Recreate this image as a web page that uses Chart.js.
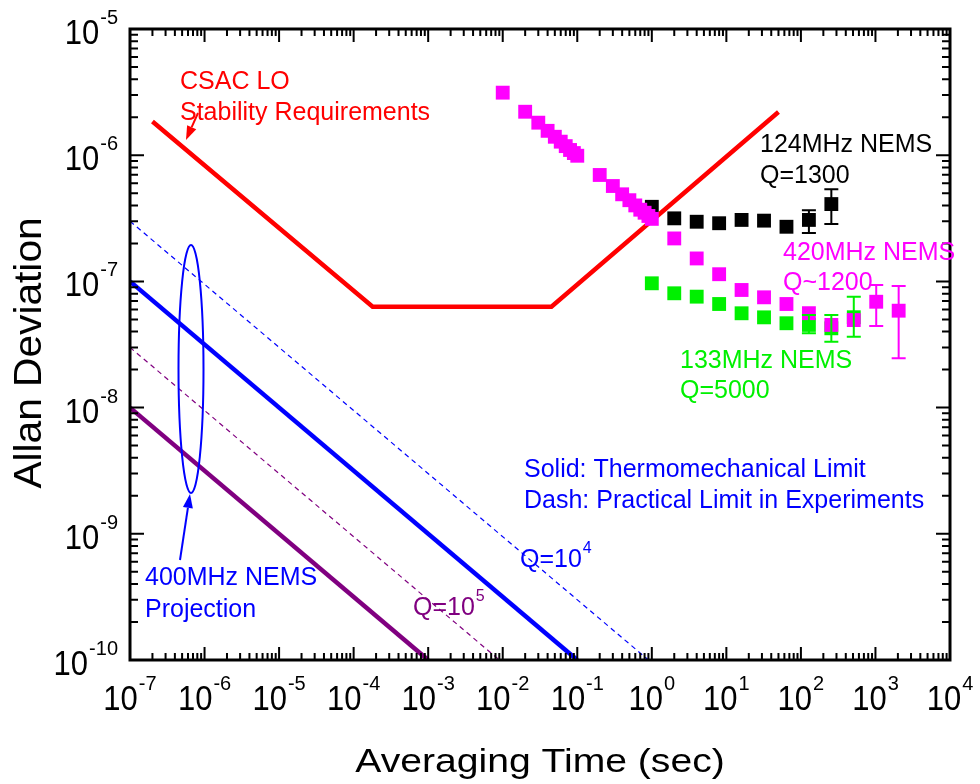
<!DOCTYPE html>
<html>
<head>
<meta charset="utf-8">
<script src="https://cdn.jsdelivr.net/npm/chart.js@4.4.0/dist/chart.umd.min.js"></script>
<style>
  html, body { margin: 0; padding: 0; background: #fff; }
  #wrap { width: 980px; height: 784px; position: relative; }
</style>
</head>
<body>
<div id="wrap"><canvas id="chart"></canvas></div>
<script>
// averaging time (s) and Allan deviation
const blackTau = [1, 2, 4, 8, 16, 32, 64, 128, 256];
const blackAdev = [3.9e-7, 3.16e-7, 2.97e-7, 2.89e-7, 3.07e-7, 3.03e-7, 2.71e-7, 3.07e-7, 4.1e-7];
const blackErrLo = [null, null, null, null, null, null, null, 2.42e-7, 2.85e-7];
const blackErrHi = [null, null, null, null, null, null, null, 3.66e-7, 5.37e-7];

const magentaTau = [0.01, 0.02, 0.03, 0.04, 0.05, 0.06, 0.07, 0.08, 0.09, 0.1,
  0.2, 0.3, 0.4, 0.5, 0.6, 0.7, 0.8, 0.9, 1, 2, 4, 8, 16, 32, 64, 128, 256, 512, 1024, 2048];
const magentaAdev = [3.13e-6, 2.21e-6, 1.81e-6, 1.56e-6, 1.40e-6, 1.28e-6, 1.18e-6, 1.10e-6, 1.04e-6, 9.9e-7,
  6.97e-7, 5.7e-7, 4.9e-7, 4.4e-7, 4.0e-7, 3.7e-7, 3.5e-7, 3.3e-7, 3.13e-7, 2.19e-7, 1.52e-7, 1.14e-7,
  8.55e-8, 7.48e-8, 6.62e-8, 5.6e-8, 4.52e-8, 4.94e-8, 6.9e-8, 5.86e-8];
const magentaErrLo = magentaTau.map(t => null);
const magentaErrHi = magentaTau.map(t => null);
magentaErrLo[28] = 4.43e-8; magentaErrHi[28] = 9.37e-8;
magentaErrLo[29] = 2.46e-8; magentaErrHi[29] = 9.2e-8;

const greenTau = [1, 2, 4, 8, 16, 32, 64, 128, 256, 512];
const greenAdev = [9.66e-8, 8.05e-8, 7.57e-8, 6.62e-8, 5.59e-8, 5.19e-8, 4.66e-8, 4.52e-8, 4.25e-8, 5.2e-8];
const greenErrLo = [null, null, null, null, null, null, null, 3.88e-8, 3.33e-8, 3.65e-8];
const greenErrHi = [null, null, null, null, null, null, null, 5.42e-8, 5.42e-8, 7.57e-8];

// CSAC LO stability requirement (corner points)
const csacTau = [2e-7, 1.8e-4, 0.045, 50];
const csacAdev = [1.85e-6, 6.3e-8, 6.3e-8, 2.2e-6];

// 400MHz NEMS projections (end points of the straight lines)
const q4SolidTau = [1e-7, 0.1];
const q4SolidAdev = [1e-7, 1e-10];
const q4DashTau = [1e-7, 0.9];
const q4DashAdev = [3e-7, 1e-10];
const q5SolidTau = [1e-7, 1e-3];
const q5SolidAdev = [1e-8, 1e-10];
const q5DashTau = [1e-7, 9e-3];
const q5DashAdev = [3e-8, 1e-10];

const xDecades = [-7, -6, -5, -4, -3, -2, -1, 0, 1, 2, 3, 4];
const yDecades = [-10, -9, -8, -7, -6, -5];

const FONT = '"Liberation Sans", Arial, Helvetica, sans-serif';
const RED = '#ff0000', BLUE = '#0000ff', PURPLE = '#800080', MAGENTA = '#ff00ff', GREEN = '#00f000';

function pts(xs, ys) { return xs.map((x, i) => ({ x: x, y: ys[i] })); }

function lineSet(xs, ys, color, width, dash, order) {
  return {
    data: pts(xs, ys), showLine: true, borderColor: color, borderWidth: width,
    borderDash: dash, pointRadius: 0, fill: false, tension: 0, order: order
  };
}

function pointSet(xs, ys, color, order) {
  return {
    data: pts(xs, ys), showLine: false, pointStyle: 'rect', pointRadius: 9.8,
    backgroundColor: color, borderColor: color, borderWidth: 0, order: order
  };
}

function arrow(ctx, x1, y1, x2, y2, color) {
  const ang = Math.atan2(y2 - y1, x2 - x1);
  const len = 14, half = 5;
  const bx = x2 - len * Math.cos(ang), by = y2 - len * Math.sin(ang);
  ctx.strokeStyle = color; ctx.fillStyle = color; ctx.lineWidth = 2;
  ctx.beginPath(); ctx.moveTo(x1, y1); ctx.lineTo(bx, by); ctx.stroke();
  ctx.beginPath();
  ctx.moveTo(x2, y2);
  ctx.lineTo(bx + half * Math.sin(ang), by - half * Math.cos(ang));
  ctx.lineTo(bx - half * Math.sin(ang), by + half * Math.cos(ang));
  ctx.closePath(); ctx.fill();
}

function text(ctx, s, x, y, color, size) {
  ctx.fillStyle = color;
  ctx.font = (size || 25) + 'px ' + FONT;
  ctx.textAlign = 'left';
  ctx.textBaseline = 'alphabetic';
  ctx.fillText(s, x, y);
}

// "base" with superscript "exp"; base may be stretched vertically by sy
function powLabel(ctx, base, exp, x, y, color, size, expSize, rise, align, sy) {
  ctx.font = size + 'px ' + FONT;
  const wb = ctx.measureText(base).width;
  ctx.font = expSize + 'px ' + FONT;
  const we = ctx.measureText(exp).width;
  const total = wb + we + 1;
  let x0 = x;
  if (align === 'center') x0 = x - total / 2;
  if (align === 'right') x0 = x - total;
  ctx.fillStyle = color;
  ctx.textAlign = 'left';
  ctx.textBaseline = 'alphabetic';
  ctx.save();
  ctx.translate(x0, y);
  ctx.scale(1, sy || 1);
  ctx.font = size + 'px ' + FONT;
  ctx.fillText(base, 0, 0);
  ctx.restore();
  ctx.font = expSize + 'px ' + FONT;
  ctx.fillText(exp, x0 + wb + 1, y - rise);
}

function errorBars(ctx, xs, lo, hi, color, sx, sy) {
  ctx.strokeStyle = color; ctx.lineWidth = 2;
  xs.forEach((t, i) => {
    if (lo[i] == null) return;
    const px = sx.getPixelForValue(t);
    const y1 = sy.getPixelForValue(lo[i]), y2 = sy.getPixelForValue(hi[i]);
    ctx.beginPath();
    ctx.moveTo(px, y1); ctx.lineTo(px, y2);
    ctx.moveTo(px - 7, y1); ctx.lineTo(px + 7, y1);
    ctx.moveTo(px - 7, y2); ctx.lineTo(px + 7, y2);
    ctx.stroke();
  });
}

const decor = {
  id: 'decor',
  afterDatasetsDraw(chart) {
    const { ctx, chartArea: a, scales: { x, y } } = chart;
    ctx.save();

    errorBars(ctx, blackTau, blackErrLo, blackErrHi, '#000', x, y);
    errorBars(ctx, greenTau, greenErrLo, greenErrHi, GREEN, x, y);
    errorBars(ctx, magentaTau, magentaErrLo, magentaErrHi, MAGENTA, x, y);

    // frame
    ctx.strokeStyle = '#000'; ctx.lineWidth = 3;
    ctx.strokeRect(a.left, a.top, a.right - a.left, a.bottom - a.top);

    // inward ticks on all four sides
    ctx.lineWidth = 2;
    xDecades.forEach(k => {
      for (let m = 1; m <= 9; m++) {
        const v = m * Math.pow(10, k);
        if (v < 1e-7 * 0.999 || v > 1e4 * 1.001) continue;
        const px = x.getPixelForValue(v), len = m === 1 ? 13 : 7;
        ctx.beginPath();
        ctx.moveTo(px, a.bottom); ctx.lineTo(px, a.bottom - len);
        ctx.moveTo(px, a.top); ctx.lineTo(px, a.top + len);
        ctx.stroke();
      }
    });
    yDecades.forEach(k => {
      for (let m = 1; m <= 9; m++) {
        const v = m * Math.pow(10, k);
        if (v < 1e-10 * 0.999 || v > 1e-5 * 1.001) continue;
        const py = y.getPixelForValue(v), len = m === 1 ? 14 : 8;
        ctx.beginPath();
        ctx.moveTo(a.left, py); ctx.lineTo(a.left + len, py);
        ctx.moveTo(a.right, py); ctx.lineTo(a.right - len, py);
        ctx.stroke();
      }
    });

    // tick labels
    xDecades.forEach(k => {
      powLabel(ctx, '10', String(k), x.getPixelForValue(Math.pow(10, k)), 710, '#000', 31, 20, 20, 'center', 1.13);
    });
    yDecades.forEach(k => {
      powLabel(ctx, '10', String(k), 118, y.getPixelForValue(Math.pow(10, k)) + 15, '#000', 31, 20, 20, 'right', 1.13);
    });

    // axis titles
    ctx.fillStyle = '#000';
    ctx.textAlign = 'center';
    ctx.save();
    ctx.translate(540, 772);
    ctx.scale(1.15, 1);
    ctx.font = '34px ' + FONT;
    ctx.fillText('Averaging Time (sec)', 0, 0);
    ctx.restore();
    ctx.save();
    ctx.translate(41, 353);
    ctx.rotate(-Math.PI / 2);
    ctx.scale(1.07, 1);
    ctx.font = '38px ' + FONT;
    ctx.fillText('Allan Deviation', 0, 0);
    ctx.restore();

    // annotations
    text(ctx, 'CSAC LO', 180, 89, RED);
    text(ctx, 'Stability Requirements', 180, 120, RED);
    arrow(ctx, 198, 113, 186, 140, RED);

    text(ctx, '124MHz NEMS', 760, 152, '#000');
    text(ctx, 'Q=1300', 760, 183, '#000');
    text(ctx, '420MHz NEMS', 783, 260, MAGENTA);
    text(ctx, 'Q~1200', 783, 290, MAGENTA);
    text(ctx, '133MHz NEMS', 680, 368, GREEN);
    text(ctx, 'Q=5000', 680, 398, GREEN);

    text(ctx, 'Solid: Thermomechanical Limit', 524, 477, BLUE);
    text(ctx, 'Dash: Practical Limit in Experiments', 524, 508, BLUE);

    powLabel(ctx, 'Q=10', '4', 520, 567, BLUE, 25, 16, 14, 'left');
    powLabel(ctx, 'Q=10', '5', 413, 615, PURPLE, 25, 16, 14, 'left');

    text(ctx, '400MHz NEMS', 145, 585, BLUE);
    text(ctx, 'Projection', 145, 617, BLUE);
    arrow(ctx, 180, 560, 190, 494, BLUE);

    ctx.strokeStyle = BLUE; ctx.lineWidth = 2;
    ctx.beginPath();
    ctx.ellipse(191, 369, 12.5, 124, 0, 0, Math.PI * 2);
    ctx.stroke();

    ctx.restore();
  }
};

new Chart(document.getElementById('chart'), {
  type: 'scatter',
  data: {
    datasets: [
      lineSet(q4DashTau, q4DashAdev, BLUE, 1.2, [5, 4], 8),
      lineSet(q5DashTau, q5DashAdev, PURPLE, 1.2, [5, 4], 8),
      lineSet(q4SolidTau, q4SolidAdev, BLUE, 4.5, [], 7),
      lineSet(q5SolidTau, q5SolidAdev, PURPLE, 4.5, [], 7),
      pointSet(blackTau, blackAdev, '#000', 5),
      lineSet(csacTau, csacAdev, RED, 4.5, [], 4),
      pointSet(greenTau, greenAdev, GREEN, 3),
      pointSet(magentaTau, magentaAdev, MAGENTA, 2)
    ]
  },
  options: {
    responsive: true,
    maintainAspectRatio: false,
    animation: false,
    layout: { padding: { left: 130, top: 29, right: 30, bottom: 124 } },
    plugins: { legend: { display: false }, tooltip: { enabled: false } },
    scales: {
      x: { type: 'logarithmic', min: 1e-7, max: 1e4, display: false },
      y: { type: 'logarithmic', min: 1e-10, max: 1e-5, display: false }
    }
  },
  plugins: [decor]
});
</script>
</body>
</html>
